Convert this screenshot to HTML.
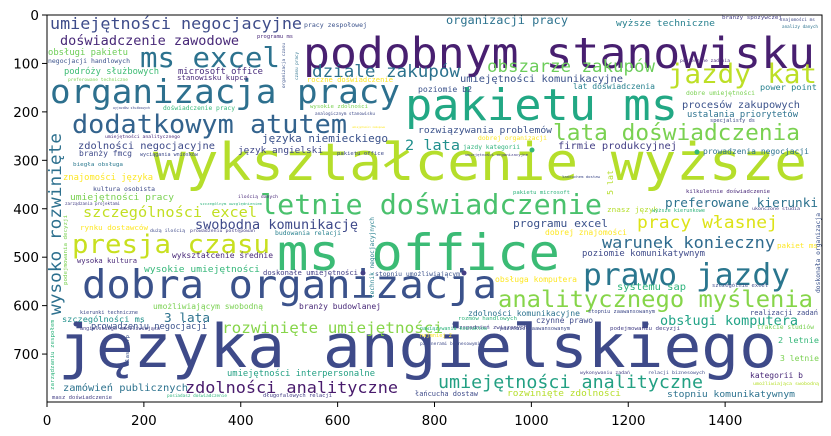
<!DOCTYPE html>
<html><head><meta charset="utf-8"><style>
html,body{margin:0;padding:0;background:#fff;}
svg{display:block;}
text{font-family:"DejaVu Sans Mono","Liberation Mono",monospace;}
.tk{font-family:"DejaVu Sans","Liberation Sans",sans-serif;font-size:13.5px;fill:#000;}
</style></head><body>
<svg id="chart" width="831" height="436" viewBox="0 0 831 436" xmlns="http://www.w3.org/2000/svg">
<rect x="47" y="15" width="775" height="387" fill="#fff"/>
<g id="words"></g>
<g id="axes"></g>
</svg>
<script>
const xTicks = [0,200,400,600,800,1000,1200,1400];
const yTicks = [0,100,200,300,400,500,600,700];
// [text, xStart, xEnd, baseline, color, vertical]
const words = [
["podobnym stanowisku",303,815,68,"#481f70",0],
["ms excel",140,280,67,"#2c728e",0],
["organizacja pracy",50,400,103,"#2d708e",0],
["pakietu ms",405,678,120,"#22a884",0],
["dodatkowym atutem",72,347,133,"#33638d",0],
["jazdy kat",668,817,83,"#bddf26",0],
["lata doświadczenia",553,800,140,"#7ad151",0],
["dziale zakupów",312,460,77,"#2c728e",0],
["obszarze zakupów",487,655,72,"#6ccd5a",0],
["wykształcenie wyższe",153,807,180,"#b5de2b",0],
["letnie doświadczenie",260,602,214,"#4ac16d",0],
["ms office",277,560,270,"#3bbb75",0],
["presja czasu",72,270,253,"#c8e020",0],
["dobra organizacja",82,497,298,"#3b528b",0],
["prawo jazdy",583,790,285,"#2a768e",0],
["analitycznego myślenia",498,813,307,"#86d549",0],
["języka angielskiego",58,777,367,"#3e4a89",0],
["umiejętności analityczne",438,703,388,"#23a083",0],
["zdolności analityczne",185,398,393,"#481a6c",0],
["rozwinięte umiejętności",222,443,333,"#86d549",0],
["obsługi komputera",660,798,325,"#20a386",0],
["warunek konieczny",602,775,248,"#2f6b8e",0],
["pracy własnej",637,778,228,"#dde318",0],
["preferowane kierunki",665,818,207,"#2c728e",0],
["umiejętności negocjacyjne",50,302,29,"#3e4c8a",0],
["doświadczenie zawodowe",60,239,45,"#482878",0],
["wysoko rozwinięte",133,315,61,"#2d708e",1],
["2 lata",405,460,150,"#21908d",0],
["szczególności excel",83,257,217,"#c2df23",0],
["swobodna komunikację",195,358,229,"#3e4989",0],
["język angielski",238,323,153,"#3f4788",0],
["języka niemieckiego",262,388,142,"#3b528b",0],
["zdolności negocjacyjne",78,215,149,"#3e4a89",0],
["umiejętności komunikacyjne",460,623,82,"#3b528b",0],
["organizacji pracy",446,568,24,"#2c728e",0],
["wyższe techniczne",616,715,26,"#27808e",0],
["procesów zakupowych",682,800,108,"#3b528b",0],
["ustalania priorytetów",687,798,117,"#2c728e",0],
["rozwiązywania problemów",418,552,133,"#3b528b",0],
["firmie produkcyjnej",558,677,149,"#433e85",0],
["prowadzenia negocjacji",703,809,154,"#2c728e",0],
["power point",760,817,90,"#27808e",0],
["lat doświadczenia",573,655,89,"#26818e",0],
["dobre umiejętności",686,755,95,"#7ad151",0],
["podróży służbowych",64,159,74,"#3dbc74",0],
["microsoft office",178,263,74,"#472a7a",0],
["obsługi pakietu",48,128,55,"#6ece58",0],
["negocjacji handlowych",48,130,63,"#3b528b",0],
["branży fmcg",79,132,156,"#3e4a89",0],
["biegła obsługa",73,123,166,"#2a788e",0],
["znajomości języka",63,153,180,"#fde725",0],
["kultura osobista",93,155,191,"#3e4a89",0],
["umiejętności pracy",70,174,200,"#7ad151",0],
["programu excel",513,608,227,"#3b528b",0],
["dobrej znajomości",545,627,235,"#fde725",0],
["poziomie komunikatywnym",582,705,256,"#3e4a89",0],
["obsługa komputera",495,577,282,"#fde725",0],
["systemu sap",617,686,290,"#2eb37c",0],
["zdolności komunikacyjne",468,580,316,"#2c728e",0],
["czynne prawo",536,593,323,"#3e4a89",0],
["stopniu komunikatywnym",667,795,397,"#2c728e",0],
["rozwinięte zdolności",507,621,396,"#b5de2b",0],
["łańcucha dostaw",415,478,396,"#3e4a89",0],
["kategorii b",750,803,378,"#482878",0],
["2 letnie",778,819,343,"#35b779",0],
["3 letnie",780,819,361,"#7ad151",0],
["umiejętności interpersonalne",227,375,376,"#23a083",0],
["zamówień publicznych",63,188,391,"#2c728e",0],
["3 lata",164,210,322,"#2c728e",0],
["szczególności ms",62,145,322,"#21918c",0],
["prowadzeniu negocjacji",91,207,329,"#3b528b",0],
["umożliwiającym swobodną",153,263,309,"#7ad151",0],
["branży budowlanej",299,381,309,"#482878",0],
["wysokie umiejętności",144,260,272,"#35b779",0],
["wykształcenie średnie",172,273,258,"#482878",0],
["wysoka kultura",77,137,263,"#482878",0],
["doskonałe umiejętności",263,358,275,"#433e85",0],
["rynku dostawców",80,148,230,"#fde725",0],
["budowania relacji",275,341,235,"#27808e",0],
["stopniu umożliwiającym",375,460,276,"#3b528b",0],
["technik negocjacyjnych",217,298,374,"#27808e",1],
["pakiet ms",777,818,248,"#fde725",0],
["doskonała organizacja",213,293,820,"#3b528b",1],
["znasz język",607,658,212,"#b5de2b",0],
["5 lat",170,195,613,"#b5de2b",1],
["kilkuletnie doświadczenie",686,770,193,"#482878",0],
["pakietu microsoft",513,570,194,"#2eb37c",0],
["organizacja czasu",43,88,285,"#3b528b",1],
["czasu pracy",52,80,298,"#2c728e",1],
["roczne doświadczenie",307,393,82,"#fde725",0],
["pracy zespołowej",304,367,27,"#3b528b",0],
["programu ms",257,293,38,"#482878",0],
["stanowisku kupca",177,248,80,"#482878",0],
["doświadczenie pracy",163,235,110,"#35b779",0],
["wysokie zdolności",310,368,108,"#7ad151",0],
["pakietu office",337,384,155,"#3e4a89",0],
["poziomie b2",418,472,92,"#3b528b",0],
["jazdy kategorii",463,520,149,"#2eb37c",0],
["umiejętności organizacyjne",465,528,156,"#433e85",0],
["dobrej organizacji",478,547,140,"#fde725",0],
["rozmów handlowych",458,517,320,"#2eb37c",0],
["zagadnień związanych",459,527,329,"#433e85",0],
["trakcie studiów",757,814,329,"#7ad151",0],
["umożliwiająca swobodną",753,819,385,"#b5de2b",0],
["masz doświadczenie",52,112,399,"#433e85",0],
["posiadasz doświadczenie",167,227,397,"#2eb37c",0],
["długofalowych relacji",263,332,397,"#433e85",0],
["podejmowania decyzji",215,285,67,"#7ad151",1],
["zarządzaniu zespołem",320,390,54,"#2eb37c",1],
["klasy erp",335,365,129,"#3b528b",1],
["umiejętności analitycznego",105,180,138,"#482878",0],
["wyciągania wniosków",140,198,156,"#3e4a89",0],
["zarządzania projektami",65,120,205,"#433e85",0],
["szczególnym uwzględnieniem",200,262,205,"#2eb37c",0],
["ilością danych",238,278,198,"#482878",0],
["dużą ilością",150,185,232,"#3e4a89",0],
["prowadzeniu postępowań",190,255,232,"#433e85",0],
["preferowane techniczne",68,128,81,"#7ad151",0],
["wyjazdów służbowych",113,150,109,"#3e4a89",0],
["kierunki techniczne",80,138,314,"#3e4a89",0],
["angielskiego umożliwiająca",80,160,330,"#433e85",0],
["partnerami biznesowymi",420,480,345,"#3e4a89",0],
["najmniej 2",420,452,337,"#fde725",0],
["nawiązywania kontaktów",420,487,330,"#2eb37c",0],
["poziomie zaawansowanym",500,570,330,"#3e4a89",0],
["stopniu zaawansowanym",588,655,313,"#3e4a89",0],
["podejmowaniu decyzji",610,680,330,"#433e85",0],
["relacji biznesowych",648,705,374,"#3e4a89",0],
["wykonywaniu zadań",580,630,374,"#433e85",0],
["szczególnie excel",712,768,287,"#3e4a89",0],
["realizacji zadań",750,818,315,"#3e4a89",0],
["znajomości ms",780,815,21,"#3e4a89",0],
["analizy danych",782,818,28,"#2c728e",0],
["branży spożywczej",722,782,19,"#433e85",0],
["powierzone zadania",680,730,62,"#482878",0],
["specjalisty ds",710,755,122,"#3e4a89",0],
["łańcuchem dostaw",562,600,178,"#3e4a89",0],
["wyższe kierunkowe",652,705,212,"#2eb37c",0],
["ukończone studia",752,800,210,"#433e85",0],
["umiejętności zakupowe",352,385,128,"#fde725",0],
["analogicznym stanowisku",315,375,115,"#3e4a89",0]
];
const dots = [[76,324,"#3e4a89"],[532,150,"#35b779"],[697,152,"#35b779"],[455,324,"#3e4a89"],[646,324,"#3e4a89"],[464,273,"#433e85"],[363,273,"#433e85"]];

const NS="http://www.w3.org/2000/svg";
const X0=47,Y0=15,S=775/1600;
const xScale=v=>X0+v*S, yScale=v=>Y0+v*S;
const wg=document.getElementById('words');
words.forEach(w=>{
  const [t,a,b,c,col,vert]=w;
  const el=document.createElementNS(NS,'text');
  
  
  const len=b-a, fs=len/(t.length*0.63);
  el.setAttribute('font-size',fs.toFixed(2));
  el.setAttribute('fill',col);
  el.setAttribute('textLength',len);
  el.setAttribute('lengthAdjust','spacingAndGlyphs');
  if(vert){
    el.setAttribute('x',0);el.setAttribute('y',0);
    el.setAttribute('transform',`translate(${c},${b}) rotate(-90)`);
  } else {
    el.setAttribute('x',a);el.setAttribute('y',c);
  }
  el.textContent=t;
  wg.appendChild(el);
});
dots.forEach(d=>{
  const c=document.createElementNS(NS,'circle');
  
  
  c.setAttribute('cx',d[0]);c.setAttribute('cy',d[1]);c.setAttribute('r',2.5);c.setAttribute('fill',d[2]);
  wg.appendChild(c);
});
const ag=document.getElementById('axes');
const fr=document.createElementNS(NS,'rect');


fr.setAttribute('x',X0);fr.setAttribute('y',Y0);fr.setAttribute('width',775);fr.setAttribute('height',387);
fr.setAttribute('fill','none');fr.setAttribute('stroke','#000');fr.setAttribute('stroke-width',1);
ag.appendChild(fr);
xTicks.forEach(v=>{
  const x=xScale(v);
  const l=document.createElementNS(NS,'line');
  
  
  l.setAttribute('x1',x);l.setAttribute('x2',x);l.setAttribute('y1',402);l.setAttribute('y2',407);l.setAttribute('stroke','#000');
  ag.appendChild(l);
  const t=document.createElementNS(NS,'text');
  
  
  t.setAttribute('class','tk');t.setAttribute('x',x);t.setAttribute('y',425);t.setAttribute('text-anchor','middle');
  t.textContent=v;ag.appendChild(t);
});
yTicks.forEach(v=>{
  const y=yScale(v);
  const l=document.createElementNS(NS,'line');
  
  
  l.setAttribute('x1',42);l.setAttribute('x2',X0);l.setAttribute('y1',y);l.setAttribute('y2',y);l.setAttribute('stroke','#000');
  ag.appendChild(l);
  const t=document.createElementNS(NS,'text');
  
  
  t.setAttribute('class','tk');t.setAttribute('x',39);t.setAttribute('y',y+5);t.setAttribute('text-anchor','end');
  t.textContent=v;ag.appendChild(t);
});
</script>
</body></html>
